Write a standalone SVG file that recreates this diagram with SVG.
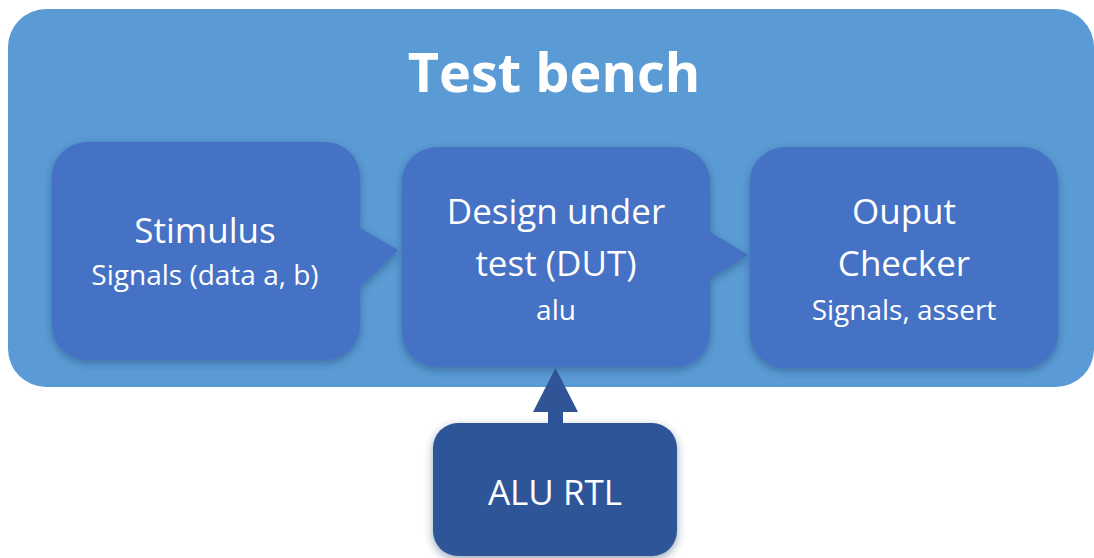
<svg xmlns="http://www.w3.org/2000/svg" width="1094" height="558" viewBox="0 0 1094 558">
  <defs>
    <filter id="shadow" x="-10%" y="-10%" width="120%" height="130%">
      <feDropShadow dx="0" dy="3" stdDeviation="4" flood-color="#1f3a66" flood-opacity="0.45"/>
    </filter>
  </defs>
  <style>
    .bench { fill: #5B9BD5; }
    .block { fill: #4472C4; filter: url(#shadow); }
    .rtl { fill: #2F5597; filter: url(#shadow); }
    .title { font-family: "Open Sans", Lato, "Liberation Sans", sans-serif; font-weight: bold; fill: #ffffff; }
    .label { font-family: "Open Sans", Lato, "Liberation Sans", sans-serif; fill: #ffffff; text-anchor: middle; }
    .big { font-size: 35px; }
    .small { font-size: 28px; }
  </style>

  <!-- test bench container -->
  <g id="testbench">
    <rect class="bench" x="8" y="9" width="1086" height="378" rx="38"/>
    <text class="title" x="554" y="92" font-size="54" text-anchor="middle">Test bench</text>
  </g>

  <!-- stimulus block with callout towards the DUT -->
  <g id="stimulus">
    <path class="block" d="M87,142 H325 A35,35 0 0 1 360,177 V228 L398,250 L360,287 V325 A35,35 0 0 1 325,360 H87 A35,35 0 0 1 52,325 V177 A35,35 0 0 1 87,142 Z"/>
    <text class="label big" x="205" y="243">Stimulus</text>
    <text class="label small" x="205" y="285">Signals (data a, b)</text>
  </g>

  <!-- design under test with callout towards the checker -->
  <g id="dut">
    <path class="block" d="M437,147 H675 A35,35 0 0 1 710,182 V232 L748,255 L710,278 V332 A35,35 0 0 1 675,367 H437 A35,35 0 0 1 402,332 V182 A35,35 0 0 1 437,147 Z"/>
    <text class="label big" x="556" y="224">Design under</text>
    <text class="label big" x="556" y="276">test (DUT)</text>
    <text class="label small" x="556" y="320">alu</text>
  </g>

  <!-- output checker -->
  <g id="checker">
    <rect class="block" x="750" y="147" width="308" height="221" rx="35"/>
    <text class="label big" x="904" y="224">Ouput</text>
    <text class="label big" x="904" y="276">Checker</text>
    <text class="label small" x="904" y="320">Signals, assert</text>
  </g>

  <!-- connectors -->
  <g id="connectors">
    <polygon fill="#2F5597" points="548,424 548,412 533,412 555.5,368 578,412 563,412 563,424"/>
  </g>

  <!-- RTL source feeding the DUT -->
  <g id="alu-rtl">
    <rect class="rtl" x="433" y="423" width="244" height="133" rx="25"/>
    <text class="label big" x="555" y="505">ALU RTL</text>
  </g>
</svg>
